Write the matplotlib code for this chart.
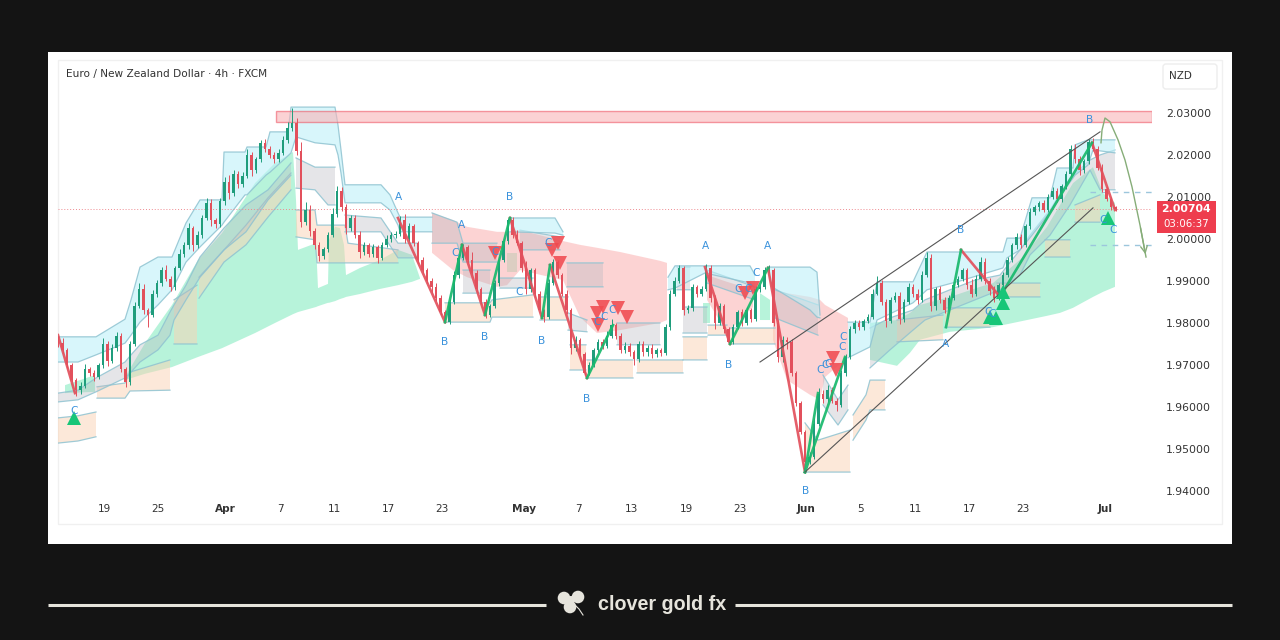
import numpy as np
import matplotlib
matplotlib.use("Agg")
import matplotlib.pyplot as plt
from matplotlib.patches import Rectangle, FancyBboxPatch, Circle

nan = np.nan

# x is the position along the time axis, tick labels are placed on it
tick_pos = [104, 158, 225, 280, 334, 388, 442, 524, 578, 632, 686, 740, 806, 861, 915, 969, 1023, 1105]
tick_txt = ["19", "25", "Apr", "7", "11", "17", "23", "May", "7", "13", "19", "23", "Jun", "5", "11", "17", "23", "Jul"]
months = ["Apr", "May", "Jun", "Jul"]
price_ticks = [1.94, 1.95, 1.96, 1.97, 1.98, 1.99, 2.00, 2.01, 2.02, 2.03]
last_price = 2.00704

closes = [
    1.9752, 1.9735, 1.9700, 1.9665, 1.9640, 1.9650, 1.9690, 1.9680, 1.9672, 1.9700,
    1.9750, 1.9710, 1.9740, 1.9770, 1.9690, 1.9660, 1.9750, 1.9840, 1.9880, 1.9830,
    1.9820, 1.9870, 1.9895, 1.9925, 1.9905, 1.9885, 1.9930, 1.9965, 1.9985, 2.0025,
    1.9985, 2.0010, 2.0050, 2.0085, 2.0045, 2.0035, 2.0090, 2.0135, 2.0110, 2.0155,
    2.0130, 2.0150, 2.0200, 2.0165, 2.0190, 2.0228, 2.0215, 2.0200, 2.0190, 2.0205,
    2.0235, 2.0265, 2.0275, 2.0210, 2.0040, 2.0070, 2.0020, 1.9985, 1.9960, 1.9975,
    2.0010, 2.0060, 2.0115, 2.0075, 2.0025, 2.0050, 2.0010, 1.9970, 1.9985, 1.9965,
    1.9980, 1.9955, 1.9985, 2.0000, 2.0010, 2.0012, 2.0045, 2.0000, 2.0030, 1.9990,
    1.9950, 1.9925, 1.9900, 1.9885, 1.9860, 1.9825, 1.9803, 1.9850, 1.9915, 1.9955,
    1.9980, 1.9950, 1.9920, 1.9880, 1.9850, 1.9820, 1.9840, 1.9895, 1.9950, 1.9995,
    2.0045, 2.0010, 1.9990, 1.9930, 1.9880, 1.9925, 1.9870, 1.9830, 1.9815, 1.9895,
    1.9945, 1.9915, 1.9870, 1.9830, 1.9740, 1.9760, 1.9725, 1.9680, 1.9700, 1.9735,
    1.9755, 1.9745, 1.9770, 1.9795, 1.9770, 1.9735, 1.9745, 1.9730, 1.9715, 1.9750,
    1.9730, 1.9740, 1.9725, 1.9735, 1.9728, 1.9790, 1.9870, 1.9900, 1.9930, 1.9830,
    1.9835, 1.9885, 1.9870, 1.9880, 1.9930, 1.9860, 1.9800, 1.9840, 1.9785, 1.9755,
    1.9790, 1.9825, 1.9800, 1.9830, 1.9810, 1.9880, 1.9885, 1.9925, 1.9925, 1.9800,
    1.9720, 1.9760, 1.9755, 1.9680, 1.9610, 1.9540, 1.9470, 1.9480, 1.9560, 1.9630,
    1.9620, 1.9640, 1.9615, 1.9605, 1.9680, 1.9720, 1.9785, 1.9800, 1.9790, 1.9805,
    1.9815, 1.9870, 1.9895, 1.9850, 1.9805, 1.9855, 1.9865, 1.9810, 1.9850, 1.9885,
    1.9870, 1.9855, 1.9915, 1.9955, 1.9840, 1.9880, 1.9855, 1.9830, 1.9860, 1.9890,
    1.9905, 1.9925, 1.9890, 1.9870, 1.9905, 1.9945, 1.9900, 1.9875, 1.9860, 1.9890,
    1.9915, 1.9950, 1.9985, 2.0005, 1.9985, 2.0030, 2.0065, 2.0075, 2.0085, 2.0070,
    2.0100, 2.0115, 2.0095, 2.0125, 2.0155, 2.0215, 2.0190, 2.0165, 2.0185, 2.0230,
    2.0215, 2.0170, 2.0120, 2.0095, 2.0075, 2.00704,
]
first_open = 1.9760
# wick lengths in pips, one row for each ten candles
wick_up = [
    8, 12, 6, 5, 4, 9, 12, 5, 7, 4,
    14, 6, 10, 8, 5, 4, 6, 10, 14, 12,
    6, 8, 7, 9, 14, 6, 5, 10, 7, 12,
    6, 9, 8, 13, 10, 6, 8, 12, 18, 9,
    7, 10, 14, 8, 6, 7, 9, 6, 8, 10,
    9, 14, 38, 12, 20, 18, 10, 6, 8, 7,
    6, 14, 10, 8, 9, 7, 6, 9, 8, 5,
    7, 6, 8, 9, 7, 6, 9, 14, 8, 6,
    6, 7, 6, 8, 9, 6, 5, 7, 8, 10,
    9, 6, 20, 5, 6, 7, 6, 8, 9, 6,
    5, 8, 12, 6, 18, 7, 6, 5, 4, 10,
    8, 6, 5, 9, 6, 8, 5, 6, 7, 6,
    8, 7, 10, 14, 6, 6, 9, 7, 5, 6,
    8, 7, 9, 6, 5, 7, 8, 10, 9, 6,
    8, 7, 6, 8, 10, 8, 6, 7, 5, 6,
    7, 6, 8, 9, 6, 7, 8, 9, 12, 6,
    8, 9, 7, 6, 5, 4, 6, 12, 14, 16,
    10, 12, 8, 6, 7, 6, 8, 6, 7, 5,
    6, 10, 16, 8, 6, 7, 8, 9, 6, 10,
    7, 12, 8, 14, 10, 6, 8, 6, 7, 6,
    8, 6, 7, 14, 9, 12, 10, 8, 14, 6,
    7, 8, 6, 9, 7, 6, 8, 5, 6, 8,
    6, 9, 7, 5, 6, 8, 12, 7, 6, 9,
    10, 6, 8, 6, 5, 3,
]
wick_dn = [
    10, 6, 8, 6, 14, 10, 5, 7, 9, 6,
    7, 12, 5, 6, 7, 12, 8, 6, 5, 9,
    30, 6, 7, 8, 5, 9, 6, 5, 7, 8,
    14, 6, 8, 5, 14, 9, 6, 8, 16, 7,
    8, 6, 5, 16, 7, 6, 8, 7, 9, 6,
    5, 6, 7, 10, 12, 6, 14, 9, 12, 7,
    6, 5, 8, 9, 12, 6, 7, 16, 8, 9,
    7, 12, 6, 5, 7, 8, 6, 9, 7, 6,
    8, 6, 5, 14, 7, 6, 4, 6, 5, 7,
    6, 8, 5, 7, 6, 8, 5, 4, 6, 5,
    6, 7, 5, 8, 12, 6, 7, 6, 12, 6,
    5, 7, 6, 8, 14, 6, 7, 5, 4, 6,
    5, 6, 4, 6, 8, 7, 6, 8, 14, 7,
    8, 9, 8, 6, 7, 5, 6, 5, 6, 10,
    7, 6, 8, 6, 5, 10, 14, 6, 8, 5,
    6, 5, 8, 6, 7, 5, 6, 4, 5, 8,
    14, 12, 18, 6, 8, 5, 4, 6, 5, 6,
    10, 8, 6, 14, 5, 6, 5, 8, 7, 6,
    5, 6, 4, 8, 14, 6, 5, 12, 7, 6,
    8, 10, 5, 6, 12, 9, 8, 7, 5, 6,
    5, 6, 9, 8, 6, 5, 7, 8, 10, 6,
    5, 6, 5, 8, 6, 5, 6, 7, 8, 5,
    6, 5, 7, 6, 5, 6, 8, 12, 7, 6,
    5, 6, 8, 5, 6, 4,
]

cyan_x = [58, 78, 96, 125, 131, 140, 158, 172, 186, 200, 222, 224, 245, 247, 266, 270, 288, 291, 296, 315, 335, 338, 341, 345, 381, 390, 398, 400, 432, nan,
          510, 555, 563, nan, 668, 675, 705, 750, 755, nan, 768, 772, 810, 817, 820, nan,
          848, 870, 877, 913, 927, 960, 1003, 1007, 1020, 1032, 1050, 1057, 1073, 1075, 1088, 1093, 1115]
cyan_top = [1.9767, 1.9767, 1.9767, 1.9809, 1.9855, 1.9933, 1.9957, 1.9957, 2.0038, 2.0093, 2.0093, 2.0207, 2.0207, 2.0219, 2.0219, 2.0255, 2.0255, 2.0314, 2.0314, 2.0314, 2.0314, 2.0271, 2.0212, 2.0129, 2.0129, 2.0105, 2.0062, 2.0052, 2.0052, nan,
            2.0050, 2.0050, 2.0017, nan, 1.9909, 1.9936, 1.9936, 1.9936, 1.9914, nan, 1.9933, 1.9933, 1.9933, 1.9921, 1.9819, nan,
            1.9802, 1.9802, 1.9898, 1.9898, 1.9969, 1.9969, 1.9969, 2.0002, 2.0002, 2.0098, 2.0098, 2.0169, 2.0169, 2.0224, 2.0236, 2.0236, 2.0236]
cyan_bot = [1.9707, 1.9707, 1.9724, 1.9752, 1.9771, 1.9802, 1.9843, 1.9879, 1.9945, 1.9981, 2.0033, 2.0040, 2.0105, 2.0105, 2.0152, 2.0159, 2.0198, 2.0205, 2.0243, 2.0229, 2.0224, 2.0200, 2.0157, 2.0086, 2.0086, 2.0069, 2.0033, 2.0017, 2.0017, nan,
            2.0017, 2.0014, 2.0009, nan, 1.9879, 1.9883, 1.9919, 1.9895, 1.9883, nan, 1.9926, 1.9886, 1.9831, 1.9814, 1.9812, nan,
            1.9717, 1.9743, 1.9807, 1.9848, 1.9879, 1.9900, 1.9931, 1.9955, 1.9974, 2.0009, 2.0064, 2.0093, 2.0145, 2.0152, 2.0176, 2.0212, 2.0205]

gray_x = [58, 78, 96, 125, 131, 140, 158, 170, 174, 186, 200, 224, 246, 268, 291, nan,
          296, 315, 328, 335, nan, 345, 381, 398, 418, nan,
          432, 457, 463, 497, nan, 520, 560, nan, 463, 490, nan, 500, 533, nan,
          567, 603, nan, 568, 587, nan, 617, 660, nan, 677, 690, nan, 683, 707, nan,
          707, 755, nan, 775, 818, nan, 823, 838, 848, nan,
          870, 890, 913, 925, 950, 975, 1000, 1020, 1030, 1050, 1070, 1090, 1100, 1115]
gray_top = [1.9633, 1.9640, 1.9669, 1.9707, 1.9724, 1.9748, 1.9771, 1.9826, 1.9843, 1.9890, 1.9957, 2.0026, 2.0081, 2.0117, 2.0181, nan,
            2.0193, 2.0171, 2.0171, 2.0171, nan, 2.0057, 2.0050, 1.9990, 1.9990, nan,
            2.0062, 2.0040, 1.9990, 1.9990, nan, 2.0021, 2.0005, nan, 1.9926, 1.9926, nan, 1.9907, 1.9907, nan,
            1.9943, 1.9943, nan, 1.9824, 1.9807, nan, 1.9800, 1.9800, nan, 1.9933, 1.9933, nan, 1.9838, 1.9838, nan,
            1.9926, 1.9886, nan, 1.9879, 1.9843, nan, 1.9676, 1.9617, 1.9652, nan,
            1.9788, 1.9812, 1.9831, 1.9855, 1.9879, 1.9902, 1.9914, 1.9974, 2.0009, 2.0069, 2.0145, 2.0188, 2.0200, 2.0212]
gray_bot = [1.9612, 1.9617, 1.9636, 1.9669, 1.9683, 1.9707, 1.9736, 1.9771, 1.9807, 1.9855, 1.9909, 1.9974, 2.0017, 2.0093, 2.0152, nan,
            2.0121, 2.0117, 2.0081, 2.0081, nan, 2.0017, 2.0017, 1.9955, 1.9955, nan,
            1.9990, 1.9990, 1.9945, 1.9945, nan, 1.9974, 1.9974, nan, 1.9871, 1.9871, nan, 1.9883, 1.9883, nan,
            1.9886, 1.9886, nan, 1.9783, 1.9779, nan, 1.9748, 1.9748, nan, 1.9879, 1.9879, nan, 1.9776, 1.9776, nan,
            1.9895, 1.9855, nan, 1.9812, 1.9771, nan, 1.9605, 1.9557, 1.9593, nan,
            1.9693, 1.9736, 1.9783, 1.9807, 1.9831, 1.9855, 1.9879, 1.9914, 1.9962, 2.0009, 2.0081, 2.0164, 2.0117, 2.0117]

peach_x = [58, 78, 96, nan, 97, 125, 130, 170, nan, 174, 197, nan, 199, 224, 246, 268, 291, nan,
           296, 315, 317, 345, 348, 398, nan, 445, 490, 492, 533, nan, 540, 568, nan, 570, 586, nan,
           587, 633, nan, 637, 683, nan, 683, 707, nan, 708, 727, nan, 730, 775, nan,
           805, 818, 850, nan, 853, 866, 870, 885, nan, 897, 943, nan, 945, 990, nan, 997, 1040, nan,
           1045, 1070, nan, 1075, 1100]
peach_top = [1.9574, 1.9579, 1.9588, nan, 1.9648, 1.9657, 1.9683, 1.9712, nan, 1.9855, 1.9890, nan, 1.9909, 1.9974, 2.0033, 2.0098, 2.0157, nan,
             2.0069, 2.0069, 2.0033, 2.0033, 1.9990, 1.9974, nan, 1.9848, 1.9848, 1.9855, 1.9867, nan, 1.9862, 1.9862, nan, 1.9748, 1.9748, nan,
             1.9712, 1.9712, nan, 1.9712, 1.9712, nan, 1.9767, 1.9767, nan, 1.9795, 1.9795, nan, 1.9788, 1.9788, nan,
             1.9562, 1.9521, 1.9545, nan, 1.9581, 1.9629, 1.9664, 1.9664, nan, 1.9807, 1.9819, nan, 1.9836, 1.9836, nan, 1.9895, 1.9895, nan,
             1.9998, 1.9998, nan, 2.0081, 2.0105]
peach_bot = [1.9514, 1.9519, 1.9529, nan, 1.9621, 1.9621, 1.9638, 1.9640, nan, 1.9750, 1.9750, nan, 1.9859, 1.9945, 1.9986, 2.0052, 2.0117, nan,
             2.0005, 1.9998, 1.9943, 1.9943, 1.9943, 1.9943, nan, 1.9802, 1.9802, 1.9814, 1.9814, nan, 1.9807, 1.9807, nan, 1.9688, 1.9688, nan,
             1.9669, 1.9669, nan, 1.9681, 1.9681, nan, 1.9712, 1.9712, nan, 1.9771, 1.9771, nan, 1.9750, 1.9750, nan,
             1.9445, 1.9445, 1.9445, nan, 1.9521, 1.9569, 1.9593, 1.9593, nan, 1.9755, 1.9760, nan, 1.9790, 1.9790, nan, 1.9862, 1.9862, nan,
             1.9957, 1.9957, nan, 2.0040, 2.0040]

green_x = [65, 95, nan, 125, 145, 172, 198, 222, 255, 275, 293, 296, 298, 316, 318, 328, 329, 335, 340, 344, 346, 360, 380, 398, 412, 420, nan,
           507, 517, nan, 703, 710, nan, 760, 770, nan,
           870, 897, 910, 920, 950, 980, 993, 1023, 1047, 1060, 1073, 1093, 1103, 1115]
green_top = [1.9652, 1.9676, nan, 1.9671, 1.9752, 1.9843, 1.9950, 2.0014, 2.0133, 2.0181, 2.0207, 2.0093, 1.9974, 1.9990, 1.9883, 1.9893, 1.9998, 2.0029, 2.0026, 1.9986, 1.9914, 1.9931, 1.9950, 1.9974, 1.9962, 1.9907, nan,
             1.9967, 1.9967, nan, 1.9848, 1.9848, nan, 1.9871, 1.9855, nan,
             1.9800, 1.9807, 1.9824, 1.9843, 1.9862, 1.9886, 1.9895, 1.9957, 2.0029, 2.0081, 2.0133, 2.0171, 2.0109, 2.0086]
green_bot = [1.9633, 1.9636, nan, 1.9664, 1.9679, 1.9695, 1.9719, 1.9740, 1.9776, 1.9800, 1.9821, 1.9824, 1.9826, 1.9838, 1.9840, 1.9848, 1.9848, 1.9852, 1.9857, 1.9860, 1.9862, 1.9869, 1.9881, 1.9890, 1.9898, 1.9905, nan,
             1.9921, 1.9921, nan, 1.9800, 1.9800, nan, 1.9807, 1.9807, nan,
             1.9712, 1.9698, 1.9729, 1.9760, 1.9779, 1.9786, 1.9790, 1.9805, 1.9817, 1.9824, 1.9836, 1.9862, 1.9874, 1.9886]

red_x = [432, 453, 467, 497, 507, 520, 563, 580, 597, 620, 660, 667, nan, 707, 727, 753, nan, 773, 787, 810, 820, 825, 848]
red_top = [2.0062, 2.0045, 2.0029, 2.0017, 2.0017, 2.0021, 1.9995, 1.9986, 1.9979, 1.9969, 1.9948, 1.9943, nan, 1.9914, 1.9898, 1.9879, nan, 1.9879, 1.9871, 1.9862, 1.9855, 1.9843, 1.9812]
red_bot = [1.9967, 1.9926, 1.9909, 1.9886, 1.9890, 1.9926, 1.9902, 1.9814, 1.9776, 1.9783, 1.9800, 1.9807, nan, 1.9855, 1.9776, 1.9838, nan, 1.9760, 1.9664, 1.9629, 1.9617, 1.9671, 1.9719]

wave_dn_x = [58, 75, nan, 398, 445, nan, 462, 485, nan, 510, 542, nan, 550, 587, nan, 705, 730, nan, 768, 805, nan, 961, 1000, nan, 1092, 1115]
wave_dn_y = [1.9771, 1.9633, nan, 2.0050, 1.9802, nan, 1.9986, 1.9819, nan, 2.0050, 1.9812, nan, 1.9938, 1.9669, nan, 1.9933, 1.9750, nan, 1.9931, 1.9445, nan, 1.9974, 1.9862, nan, 2.0229, 2.0069]
wave_up_x = [445, 462, nan, 485, 510, nan, 542, 550, nan, 587, 613, nan, 730, 768, nan, 805, 818, nan, 805, 845, nan, 946, 961, nan, 1000, 1092]
wave_up_y = [1.9802, 1.9986, nan, 1.9819, 2.0050, nan, 1.9812, 1.9938, nan, 1.9669, 1.9795, nan, 1.9750, 1.9931, nan, 1.9445, 1.9633, nan, 1.9445, 1.9719, nan, 1.9790, 1.9974, nan, 1.9862, 2.0229]

channel_x = [760, 1100, nan, 805, 1093]
channel_y = [1.9707, 2.0255, nan, 1.9445, 2.0074]

arc_x = [1101, 1102, 1105, 1110, 1118, 1125, 1132, 1140, 1146]
arc_y = [2.0229, 2.0259, 2.0288, 2.0279, 2.0236, 2.0188, 2.0124, 2.0033, 1.9957]

a_x = [398, 461, 705, 767, 945]
a_y = [2.0100, 2.0033, 1.9983, 1.9983, 1.9750]
b_x = [445, 485, 542, 587, 510, 729, 806, 961, 1090]
b_y = [1.9755, 1.9767, 1.9757, 1.9619, 2.0100, 1.9700, 1.9400, 2.0021, 2.0283]
c_x = [74, 455, 495, 519, 548, 738, 748, 756, 820, 825, 828, 842, 843, 988, 992, 1103, 1113, 597, 604, 612]
c_y = [1.9590, 1.9967, 1.9969, 1.9874, 1.9990, 1.9881, 1.9881, 1.9919, 1.9688, 1.9700, 1.9702, 1.9743, 1.9767, 1.9826, 1.9821, 2.0045, 2.0021, 1.9802, 1.9814, 1.9831]

buy_x = [74, 1003, 1003, 990, 996, 1108]
buy_y = [1.9574, 1.9874, 1.9848, 1.9814, 1.9812, 2.0050]
sell_x = [495, 558, 552, 560, 598, 597, 603, 618, 627, 745, 753, 833, 836]
sell_y = [1.9967, 1.9990, 1.9974, 1.9943, 1.9795, 1.9824, 1.9838, 1.9836, 1.9814, 1.9871, 1.9883, 1.9717, 1.9688]

zone_left, zone_right = 276, 1152
zone_low, zone_high = 2.0279, 2.0305
target_levels = [2.0112, 1.9986]
target_left = 1090


def band(ax, x, top, bot, color, alpha, z, outline=False):
    x = np.array(x, dtype=float)
    top = np.array(top)
    bot = np.array(bot)
    ax.fill_between(x, top, bot, where=~np.isnan(x), color=color, alpha=alpha, lw=0, zorder=z)
    if outline:
        ax.plot(x, top, color="#8fc3d1", lw=0.9, alpha=0.85, zorder=z + 0.05)
        ax.plot(x, bot, color="#8fc3d1", lw=0.9, alpha=0.85, zorder=z + 0.05)


fig = plt.figure(figsize=(12.8, 6.4), dpi=100, facecolor="#141414")

# full figure layer for the white card and the footer
bg = fig.add_axes([0, 0, 1, 1], zorder=0)
bg.set_xlim(0, 1280)
bg.set_ylim(640, 0)
bg.axis("off")
bg.add_patch(Rectangle((48, 52), 1184, 492, fc="white", ec="none"))
bg.add_patch(Rectangle((58, 60), 1164, 464, fc="white", ec="#f0f0f0", lw=1))
bg.add_patch(FancyBboxPatch((1164, 65), 52, 23, boxstyle="round,pad=1,rounding_size=3", fc="white", ec="#ededed", lw=1))
bg.text(1180, 76, "NZD", fontsize=7.5, color="#333333", ha="center", va="center")
bg.text(66, 74.5, "Euro / New Zealand Dollar · 4h · FXCM", fontsize=7.6, color="#333333", va="center")

footer_col = "#e6e4dc"
bg.plot([48, 546], [605, 605], color=footer_col, lw=2.2, solid_capstyle="butt")
bg.plot([735, 1232], [605, 605], color=footer_col, lw=2.2, solid_capstyle="butt")
for cx, cy in [(564, 598), (578, 597), (570, 607)]:
    bg.add_patch(Circle((cx, cy), 6.3, fc=footer_col, ec="none"))
bg.add_patch(Circle((571, 600), 4, fc=footer_col, ec="none"))
bg.plot([574, 579, 583], [604, 609, 615], color=footer_col, lw=0.8)
bg.text(598, 604, "clover gold fx", fontsize=14.2, fontweight="bold", family="Liberation Sans",
        color=footer_col, va="center")

# price pane
ax = fig.add_axes([58 / 1280, 1 - 500 / 640, 1094 / 1280, 440 / 640], zorder=1)
ax.patch.set_alpha(0)
ax.set_xlim(58, 1152)
ax.set_ylim(1.93785, 2.04261)
for s in ax.spines.values():
    s.set_visible(False)

band(ax, green_x, green_top, green_bot, "#8cecc4", 0.62, 1)
band(ax, red_x, red_top, red_bot, "#fbb0b0", 0.55, 1.1)
band(ax, peach_x, peach_top, peach_bot, "#fbd3b4", 0.5, 1.2, True)
band(ax, gray_x, gray_top, gray_bot, "#b9b9c0", 0.36, 1.3, True)
band(ax, cyan_x, cyan_top, cyan_bot, "#bff1f9", 0.6, 1.4, True)

ax.add_patch(Rectangle((zone_left, zone_low), zone_right - zone_left, zone_high - zone_low,
                       fc="#f9b4b8", ec="#ee5a68", lw=1, alpha=0.6, zorder=2))
ax.axhline(last_price, color="#ee8a90", lw=0.7, ls=(0, (1, 2)), zorder=2)
ax.hlines(target_levels, target_left, zone_right, color="#9cc6dc", lw=1, ls=(0, (4, 4)), zorder=2)

# candles
closes = np.array(closes)
opens = np.r_[first_open, closes[:-1]]
candle_x = 58 + 4.5 * np.arange(len(closes))
highs = np.maximum(opens, closes) + np.array(wick_up) * 0.0001
lows = np.minimum(opens, closes) - np.array(wick_dn) * 0.0001
cols = np.where(closes >= opens, "#1f9d7c", "#e2505c")
ax.vlines(candle_x, lows, highs, colors=cols, lw=0.7, zorder=3)
ax.bar(candle_x, np.abs(closes - opens), bottom=np.minimum(opens, closes), width=2.7, color=cols, lw=0, zorder=3.1)

# zigzag and channel
ax.plot(wave_dn_x, wave_dn_y, color="#e2505c", lw=1.9, alpha=0.92, zorder=4)
ax.plot(wave_up_x, wave_up_y, color="#18b96c", lw=1.9, alpha=0.92, zorder=4)
ax.plot(channel_x, channel_y, color="#555555", lw=0.8, zorder=4)

ax.plot(arc_x, arc_y, color="#86ad78", lw=1, zorder=4.5)
ax.annotate("", xy=(arc_x[-1], arc_y[-1]), xytext=(arc_x[-2], arc_y[-2]),
            arrowprops=dict(arrowstyle="->", color="#86ad78", lw=1, mutation_scale=12), zorder=4.5)

ax.plot(buy_x, buy_y, "^", color="#17c678", ms=10.5, mew=0, zorder=5)
ax.plot(sell_x, sell_y, "v", color="#f04a50", ms=10.5, mew=0, alpha=0.88, zorder=5)

for letter, xs, ys in [("A", a_x, a_y), ("B", b_x, b_y), ("C", c_x, c_y)]:
    for x, y in zip(xs, ys):
        ax.text(x, y, letter, fontsize=7.6, color="#3a92dc", ha="center", va="center", zorder=6)

ax.set_xticks(tick_pos)
ax.set_xticklabels(tick_txt, fontsize=7.6, color="#333333")
for lab in ax.get_xticklabels():
    if lab.get_text() in months:
        lab.set_fontweight("bold")
ax.tick_params(axis="x", length=0, pad=3)
ax.yaxis.tick_right()
ax.set_yticks(price_ticks)
ax.set_yticklabels(["%.5f" % p for p in price_ticks], fontsize=7.8, color="#333333")
ax.tick_params(axis="y", length=0, pad=10)

# last price tag sits over the axis labels
bg2 = fig.add_axes([0, 0, 1, 1], zorder=2)
bg2.set_xlim(0, 1280)
bg2.set_ylim(640, 0)
bg2.axis("off")
bg2.add_patch(Rectangle((1157, 201), 59, 32, fc="#ee3d4e", ec="none"))
bg2.text(1186, 209.5, "%.5f" % last_price, fontsize=7.8, color="white", ha="center", va="center", fontweight="bold")
bg2.text(1186, 224, "03:06:37", fontsize=7.4, color="white", ha="center", va="center")

fig.savefig("out.png", dpi=100, facecolor=fig.get_facecolor())
